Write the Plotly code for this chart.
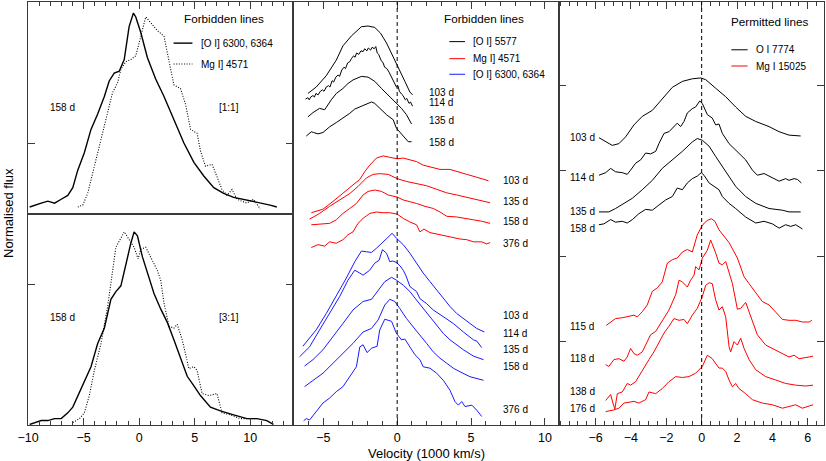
import plotly.graph_objects as go

# ---------------- DATA ----------------
# Left panel (158 d), velocity in 1000 km/s, normalised flux
L_top_oi_v = [-9.85,-9.40,-8.81,-8.21,-7.61,-7.01,-6.42,-5.97,-5.52,-4.93,-4.33,-3.73,-3.13,-2.69,-2.24,-1.79,-1.34,-0.90,-0.51,-0.30,0.15,0.75,1.49,2.24,3.13,4.03,4.93,5.82,6.72,7.61,8.51,9.40,10.30,11.19,11.79,12.39]
L_top_oi_f = [0.00,0.01,0.02,0.03,0.02,0.04,0.06,0.10,0.19,0.28,0.40,0.48,0.57,0.65,0.69,0.70,0.76,0.93,1.00,0.98,0.90,0.77,0.66,0.57,0.45,0.33,0.23,0.16,0.10,0.07,0.05,0.04,0.03,0.02,0.01,0.00]
L_top_mg_v = [-5.52,-5.07,-4.63,-4.03,-3.43,-2.84,-2.39,-1.94,-1.64,-1.19,-0.75,-0.30,0.15,0.60,1.04,1.64,2.24,2.84,3.13,3.73,4.18,4.63,5.22,5.52,5.97,6.57,7.01,7.46,7.91,8.36,8.81,9.70,10.30,10.90]
L_top_mg_f = [0.00,0.01,0.07,0.21,0.35,0.50,0.59,0.64,0.71,0.75,0.76,0.78,0.88,0.98,0.95,0.91,0.88,0.72,0.63,0.61,0.53,0.40,0.38,0.29,0.21,0.22,0.16,0.09,0.06,0.09,0.04,0.02,0.04,-0.01]
L_bot_oi_v = [-9.85,-9.40,-8.81,-8.21,-7.61,-7.01,-6.42,-5.97,-5.52,-4.93,-4.33,-3.73,-3.13,-2.54,-2.09,-1.64,-1.19,-0.75,-0.45,-0.15,0.30,0.75,1.34,1.94,2.54,3.13,3.73,4.33,4.93,5.52,6.42,7.31,8.51,9.70,10.60,11.49,12.09]
L_bot_oi_f = [0.00,0.01,0.02,0.02,0.03,0.03,0.06,0.09,0.15,0.22,0.30,0.42,0.50,0.65,0.69,0.72,0.84,0.94,1.00,0.98,0.87,0.79,0.68,0.60,0.53,0.44,0.35,0.25,0.20,0.15,0.09,0.07,0.05,0.03,0.03,0.02,0.00]
L_bot_mg_v = [-5.97,-5.37,-4.93,-4.48,-4.03,-3.43,-2.84,-2.39,-2.09,-1.34,-0.90,-0.45,-0.09,0.15,0.60,1.04,1.64,1.94,2.24,2.69,3.13,3.43,3.88,4.48,4.93,5.22,5.67,6.27,7.01,7.46,8.21,9.10,10.00,10.60]
L_bot_mg_f = [0.01,0.03,0.06,0.15,0.28,0.42,0.61,0.79,0.92,1.00,0.96,0.92,0.86,0.91,0.92,0.87,0.80,0.75,0.63,0.51,0.50,0.52,0.44,0.29,0.30,0.28,0.16,0.15,0.16,0.06,0.05,0.03,0.03,0.03]

# Middle panel: [O I] 5577 (black), stacked flux
M_oi5577_103_v = [-6.04,-5.48,-4.80,-4.12,-3.67,-3.10,-2.42,-1.97,-1.52,-1.13,-0.72,-0.27,0.07,0.52,0.86,1.04]
M_oi5577_103_f = [4.67,4.76,4.92,5.14,5.34,5.48,5.61,5.62,5.60,5.52,5.38,5.19,5.05,4.84,4.69,4.65]
M_oi5577_114_v = [-6.20,-6.05,-5.95,-5.85,-5.70,-5.60,-5.50,-5.35,-5.20,-5.05,-4.95,-4.80,-4.65,-4.55,-4.40,-4.30,-4.15,-4.00,-3.90,-3.75,-3.60,-3.50,-3.35,-3.20,-3.10,-2.95,-2.85,-2.75,-2.60,-2.45,-2.30,-2.20,-2.05,-1.95,-1.80,-1.70,-1.55,-1.45,-1.35,-1.25,-1.10,-0.95,-0.85,-0.70,-0.55,-0.45,-0.30,-0.20,-0.05,0.05,0.15,0.30,0.40,0.55,0.65,0.80,0.90,1.04]
M_oi5577_114_f = [4.59,4.61,4.58,4.62,4.64,4.62,4.67,4.65,4.70,4.72,4.70,4.76,4.78,4.76,4.85,4.83,4.90,4.93,4.91,5.00,5.04,5.02,5.10,5.12,5.16,5.20,5.18,5.24,5.22,5.27,5.26,5.30,5.27,5.31,5.28,5.32,5.30,5.33,5.24,5.22,5.14,5.10,5.04,5.02,4.97,4.93,4.88,4.84,4.76,4.78,4.70,4.66,4.64,4.58,4.60,4.53,4.55,4.49]
M_oi5577_135_v = [-6.04,-5.70,-5.25,-4.91,-4.46,-4.12,-3.67,-3.33,-2.99,-2.42,-1.97,-1.52,-1.06,-0.61,-0.16,0.29,0.63,0.97]
M_oi5577_135_f = [4.34,4.40,4.46,4.44,4.58,4.67,4.74,4.81,4.86,4.91,4.90,4.84,4.74,4.65,4.55,4.46,4.37,4.24]
M_oi5577_158_v = [-6.15,-5.81,-5.66,-5.36,-5.02,-4.57,-4.12,-3.67,-3.21,-2.87,-2.42,-2.08,-1.74,-1.52,-1.18,-0.72,-0.27,-0.05,0.41,0.75,0.97]
M_oi5577_158_f = [4.07,4.13,4.12,4.10,4.12,4.20,4.26,4.32,4.39,4.45,4.49,4.52,4.55,4.53,4.46,4.37,4.30,4.18,4.07,3.99,3.99]

# Middle panel: Mg I] 4571 (red)
M_mg_103_v = [-5.81,-5.02,-4.34,-3.67,-2.99,-2.53,-2.19,-1.86,-1.40,-0.95,-0.50,0.00,0.41,0.86,1.31,1.76,2.33,2.90,3.57,4.14,4.71,5.38,6.18]
M_mg_103_f = [2.99,3.04,3.15,3.26,3.38,3.46,3.57,3.66,3.76,3.79,3.77,3.75,3.76,3.73,3.71,3.66,3.63,3.60,3.60,3.57,3.53,3.49,3.44]
M_mg_135_v = [-5.93,-5.25,-4.57,-3.89,-3.21,-2.65,-2.08,-1.63,-1.18,-0.61,0.00,0.63,1.31,1.99,2.67,3.35,4.03,4.71,5.38,6.29]
M_mg_135_f = [2.90,2.98,3.08,3.17,3.26,3.36,3.48,3.53,3.54,3.53,3.47,3.43,3.40,3.37,3.32,3.27,3.24,3.21,3.18,3.13]
M_mg_158_v = [-5.81,-5.25,-4.57,-4.12,-3.67,-3.21,-2.76,-2.31,-1.97,-1.52,-1.06,-0.61,0.00,0.41,0.86,1.31,1.88,2.44,2.90,3.35,4.03,4.71,5.16,5.72,6.29]
M_mg_158_f = [2.82,2.83,2.84,2.89,2.98,3.05,3.12,3.24,3.29,3.31,3.29,3.24,3.21,3.17,3.15,3.12,3.08,3.05,3.00,2.94,2.93,2.90,2.89,2.87,2.84]
M_mg_376_v = [-5.81,-5.36,-4.91,-4.57,-4.12,-3.67,-3.33,-2.99,-2.65,-2.31,-1.86,-1.40,-0.95,-0.50,0.00,0.41,0.86,1.31,1.54,1.81,2.22,2.67,3.35,3.80,4.25,4.71,5.16,5.72,6.06,6.29]
M_mg_376_f = [2.50,2.54,2.52,2.58,2.56,2.61,2.68,2.72,2.84,2.91,2.98,3.00,2.99,2.99,2.97,2.91,2.86,2.82,2.72,2.76,2.71,2.69,2.65,2.64,2.62,2.61,2.58,2.58,2.55,2.57]

# Middle panel: [O I] 6300, 6364 (blue)
M_oi6300_103_v = [-6.38,-5.93,-5.48,-4.80,-4.12,-3.44,-2.87,-2.42,-2.08,-1.74,-1.40,-0.95,-0.50,-0.34,-0.05,0.41,0.86,1.31,1.76,2.22,2.67,3.12,3.57,4.03,4.71,5.38,5.90]
M_oi6300_103_f = [1.11,1.22,1.34,1.57,1.81,2.07,2.30,2.45,2.44,2.43,2.49,2.58,2.68,2.70,2.63,2.54,2.42,2.28,2.14,2.02,1.90,1.78,1.67,1.57,1.46,1.36,1.31]
M_oi6300_114_v = [-6.61,-5.93,-5.25,-4.57,-3.89,-3.33,-2.87,-2.53,-2.31,-1.86,-1.52,-1.22,-1.00,-0.72,-0.50,-0.30,-0.05,0.20,0.41,0.60,0.86,1.05,1.31,1.54,1.99,2.44,3.12,3.80,4.48,5.16,5.40,5.61,5.72]
M_oi6300_114_f = [0.96,1.10,1.34,1.57,1.81,2.04,2.18,2.14,2.11,2.18,2.28,2.32,2.47,2.42,2.30,2.31,2.29,2.24,2.18,2.10,1.95,1.92,1.88,1.78,1.71,1.62,1.53,1.43,1.31,1.20,1.18,1.13,1.09]
M_oi6300_135_v = [-6.27,-5.70,-5.02,-4.34,-3.67,-2.99,-2.31,-1.74,-1.29,-0.84,-0.38,-0.05,0.41,0.86,1.31,1.76,2.22,2.67,3.12,3.57,4.03,4.48,5.16,5.84]
M_oi6300_135_f = [0.83,0.92,1.06,1.24,1.43,1.62,1.74,1.77,1.90,2.02,2.08,2.04,1.97,1.88,1.76,1.64,1.53,1.41,1.29,1.20,1.13,1.06,0.97,0.92]
M_oi6300_158_v = [-6.27,-5.70,-5.02,-4.34,-3.67,-2.99,-2.31,-1.74,-1.29,-0.84,-0.50,-0.16,0.18,0.63,1.09,1.54,1.99,2.44,2.90,3.35,3.80,4.25,4.93,5.84]
M_oi6300_158_f = [0.54,0.63,0.73,0.87,1.01,1.15,1.31,1.36,1.48,1.69,1.77,1.74,1.64,1.50,1.38,1.27,1.15,1.03,0.94,0.87,0.80,0.75,0.68,0.63]
M_oi6300_376_v = [-6.33,-6.15,-5.93,-5.48,-5.02,-4.57,-4.12,-3.67,-3.21,-2.76,-2.53,-2.31,-2.04,-1.74,-1.36,-1.18,-0.84,-0.61,-0.38,-0.05,0.29,0.52,0.86,1.20,1.54,1.76,2.22,2.67,3.12,3.57,3.91,4.14,4.37,4.59,5.05,5.38,5.72]
M_oi6300_376_f = [0.06,0.09,0.07,0.19,0.31,0.38,0.47,0.54,0.68,0.82,1.10,1.13,1.02,1.08,1.11,1.34,1.49,1.48,1.46,1.29,1.20,1.21,1.10,0.99,0.92,0.82,0.80,0.73,0.63,0.49,0.33,0.28,0.33,0.26,0.28,0.21,0.12]

# Right panel: O I 7774 (black)
R_oi_103_v = [-5.81,-5.53,-5.06,-4.68,-4.30,-3.83,-3.36,-2.79,-2.23,-1.66,-1.09,-0.53,-0.06,0.23,0.79,1.36,1.92,2.49,3.06,3.81,4.38,4.94,5.60]
R_oi_103_f = [3.39,3.36,3.30,3.32,3.40,3.54,3.64,3.71,3.85,3.98,4.05,4.08,4.09,4.07,3.97,3.87,3.75,3.64,3.58,3.52,3.46,3.42,3.41]
R_oi_114_v = [-5.81,-5.43,-5.15,-4.87,-4.49,-4.21,-4.02,-3.74,-3.45,-3.17,-2.89,-2.60,-2.42,-2.13,-1.85,-1.57,-1.38,-1.19,-1.00,-0.81,-0.53,-0.34,-0.11,0.04,0.32,0.60,0.79,0.98,1.17,1.55,2.02,2.49,2.87,3.15,3.53,3.91,4.38,4.75,4.94,5.23,5.42,5.64]
R_oi_114_f = [2.95,2.98,3.03,2.99,2.98,2.96,3.01,3.09,3.13,3.21,3.20,3.23,3.32,3.44,3.46,3.52,3.56,3.52,3.58,3.68,3.73,3.75,3.82,3.79,3.66,3.62,3.54,3.55,3.44,3.32,3.23,3.13,3.01,2.95,2.97,2.93,2.88,2.91,2.89,2.91,2.90,2.86]
R_oi_135_v = [-5.81,-5.25,-4.87,-4.49,-3.92,-3.36,-2.79,-2.23,-1.66,-1.09,-0.53,-0.25,0.04,0.42,0.79,1.17,1.55,1.92,2.49,3.06,3.81,4.57,4.94,5.60]
R_oi_135_f = [2.52,2.52,2.56,2.61,2.68,2.78,2.89,3.03,3.13,3.23,3.34,3.38,3.36,3.29,3.17,3.05,2.93,2.82,2.70,2.62,2.56,2.54,2.52,2.52]
R_oi_158_v = [-5.81,-5.53,-5.15,-4.87,-4.49,-4.21,-3.92,-3.55,-3.17,-2.79,-2.42,-2.04,-1.66,-1.38,-1.09,-0.81,-0.53,-0.25,-0.02,0.13,0.42,0.70,0.98,1.17,1.55,1.92,2.49,3.06,3.53,4.00,4.38,4.75,5.04,5.32,5.70]
R_oi_158_f = [2.37,2.38,2.43,2.40,2.41,2.39,2.43,2.50,2.55,2.54,2.60,2.66,2.70,2.80,2.78,2.86,2.91,2.94,2.98,2.95,2.86,2.82,2.78,2.70,2.62,2.56,2.46,2.39,2.41,2.38,2.33,2.37,2.35,2.37,2.32]

# Right panel: Mg I 15025 (red)
R_mg_115_v = [-5.40,-5.15,-4.87,-4.49,-4.11,-3.83,-3.64,-3.36,-3.08,-2.79,-2.51,-2.23,-1.94,-1.66,-1.38,-1.09,-0.81,-0.53,-0.25,0.00,0.15,0.32,0.55,0.75,0.98,1.26,1.55,2.02,2.40,2.68,3.06,3.43,3.81,4.19,4.57,4.94,5.32,5.70,6.08,6.23]
R_mg_115_f = [1.19,1.23,1.27,1.28,1.30,1.31,1.29,1.35,1.43,1.59,1.63,1.70,1.92,1.96,1.98,2.05,2.08,2.05,2.25,2.35,2.39,2.42,2.44,2.41,2.31,2.24,2.16,1.98,1.76,1.68,1.57,1.47,1.43,1.35,1.26,1.25,1.25,1.23,1.23,1.25]
R_mg_118_v = [-5.43,-5.25,-4.96,-4.68,-4.40,-4.21,-4.02,-3.83,-3.64,-3.36,-3.17,-2.89,-2.60,-2.23,-1.85,-1.47,-1.28,-1.09,-0.81,-0.62,-0.43,-0.34,-0.15,0.04,0.32,0.51,0.64,0.79,0.98,1.17,1.36,1.55,1.74,2.02,2.21,2.49,2.77,3.15,3.62,4.19,4.57,4.94,5.23,5.51,6.08,6.30]
R_mg_118_f = [0.73,0.71,0.79,0.80,0.77,0.82,0.92,0.86,0.84,0.88,0.96,1.08,1.12,1.25,1.37,1.55,1.72,1.70,1.64,1.72,1.78,1.88,1.84,1.98,2.07,2.19,2.13,2.04,1.92,1.90,1.94,1.80,1.68,1.38,1.39,1.46,1.29,1.08,0.96,0.90,0.86,0.82,0.84,0.80,0.82,0.83]
R_mg_138_v = [-5.43,-5.15,-5.02,-4.91,-4.77,-4.49,-4.21,-4.02,-3.74,-3.45,-3.26,-2.98,-2.70,-2.42,-2.13,-1.85,-1.57,-1.28,-1.00,-0.81,-0.53,-0.25,0.04,0.23,0.42,0.60,0.79,0.98,1.17,1.36,1.55,1.64,1.83,2.02,2.21,2.40,2.68,3.06,3.62,4.19,4.75,5.32,5.89,6.30]
R_mg_138_f = [0.31,0.38,0.28,0.21,0.39,0.41,0.51,0.49,0.53,0.63,0.71,0.79,0.88,0.98,1.10,1.18,1.27,1.25,1.26,1.21,1.31,1.39,1.53,1.66,1.69,1.68,1.49,1.37,1.41,1.29,0.94,0.88,1.00,0.96,1.04,0.92,0.79,0.67,0.59,0.55,0.51,0.49,0.48,0.49]
R_mg_176_v = [-5.43,-5.15,-4.96,-4.68,-4.40,-4.11,-3.83,-3.55,-3.32,-3.17,-2.98,-2.60,-2.23,-1.85,-1.47,-1.09,-0.72,-0.34,0.04,0.32,0.60,0.98,1.17,1.36,1.55,1.74,1.92,2.11,2.49,2.87,3.43,4.00,4.57,4.94,5.32,5.70,6.08,6.30]
R_mg_176_f = [0.18,0.19,0.20,0.22,0.28,0.29,0.30,0.28,0.30,0.32,0.41,0.39,0.45,0.53,0.59,0.58,0.59,0.63,0.71,0.84,0.80,0.69,0.69,0.65,0.55,0.47,0.51,0.45,0.39,0.32,0.28,0.26,0.22,0.24,0.26,0.22,0.25,0.26]

epochs_mid_black = ["103 d", "114 d", "135 d", "158 d"]
epochs_mid_red = ["103 d", "135 d", "158 d", "376 d"]
epochs_mid_blue = ["103 d", "114 d", "135 d", "158 d", "376 d"]
epochs_right_black = ["103 d", "114 d", "135 d", "158 d"]
epochs_right_red = ["115 d", "118 d", "138 d", "176 d"]

ticks_left = [-10, -5, 0, 5, 10]
ticks_mid = [-5, 0, 5, 10]
ticks_right = [-6, -4, -2, 0, 2, 4, 6]

# ---------------- FIGURE ----------------
W, H = 826, 461
def fx(p): return p / W
def fy(p): return 1 - p / H

FONT = "Liberation Sans, Arial, Helvetica, sans-serif"
LC = "#3a3a3a"
BLACK, RED, BLUE = "#000000", "#ff0000", "#1a1aff"
DOTTED = "1px,1.6px"

fig = go.Figure()

def add(xa, ya, v, f, color, width=1.0, dash=None):
    fig.add_trace(go.Scatter(x=v, y=f, xaxis=xa, yaxis=ya, mode="lines",
                             line=dict(color=color, width=width, dash=dash),
                             hoverinfo="skip", showlegend=False))

# Left panels
add("x", "y", L_top_oi_v, L_top_oi_f, BLACK, 1.4)
add("x", "y", L_top_mg_v, L_top_mg_f, BLACK, 1.1, DOTTED)
add("x2", "y2", L_bot_oi_v, L_bot_oi_f, BLACK, 1.4)
add("x2", "y2", L_bot_mg_v, L_bot_mg_f, BLACK, 1.1, DOTTED)

# Middle panel
mid_black = [(M_oi5577_103_v, M_oi5577_103_f), (M_oi5577_114_v, M_oi5577_114_f),
             (M_oi5577_135_v, M_oi5577_135_f), (M_oi5577_158_v, M_oi5577_158_f)]
mid_red = [(M_mg_103_v, M_mg_103_f), (M_mg_135_v, M_mg_135_f),
           (M_mg_158_v, M_mg_158_f), (M_mg_376_v, M_mg_376_f)]
mid_blue = [(M_oi6300_103_v, M_oi6300_103_f), (M_oi6300_114_v, M_oi6300_114_f),
            (M_oi6300_135_v, M_oi6300_135_f), (M_oi6300_158_v, M_oi6300_158_f),
            (M_oi6300_376_v, M_oi6300_376_f)]
for v, f in mid_black:
    add("x3", "y3", v, f, BLACK)
for v, f in mid_red:
    add("x3", "y3", v, f, RED)
for v, f in mid_blue:
    add("x3", "y3", v, f, BLUE)

# Right panel
right_black = [(R_oi_103_v, R_oi_103_f), (R_oi_114_v, R_oi_114_f),
               (R_oi_135_v, R_oi_135_f), (R_oi_158_v, R_oi_158_f)]
right_red = [(R_mg_115_v, R_mg_115_f), (R_mg_118_v, R_mg_118_f),
             (R_mg_138_v, R_mg_138_f), (R_mg_176_v, R_mg_176_f)]
for v, f in right_black:
    add("x4", "y4", v, f, BLACK)
for v, f in right_red:
    add("x4", "y4", v, f, RED)

# ---------------- AXES ----------------
tickfont = dict(family=FONT, size=12.5, color="black")
base = dict(showline=True, linecolor=LC, linewidth=1.3, showgrid=False, zeroline=False,
            ticks="inside", tickcolor=LC, tickwidth=1, ticklen=7, tickfont=tickfont,
            fixedrange=True, automargin=False)

def xminor(d):
    return dict(tick0=0, dtick=d, ticks="inside", ticklen=4, tickcolor=LC, tickwidth=1,
                showgrid=False)

xl_dom = [fx(28), fx(293)]
xm_dom = [fx(293), fx(559)]
xr_dom = [fx(559), fx(824)]
yfull = [fy(425), fy(2)]
ytop = [fy(214), fy(2)]
ybot = [fy(425), fy(214)]

fig.update_layout(
    width=W, height=H, margin=dict(l=0, r=0, t=0, b=0, pad=0, autoexpand=False),
    paper_bgcolor="white", plot_bgcolor="white", showlegend=False,
    font=dict(family=FONT, color="black"),
    xaxis=dict(base, domain=xl_dom, anchor="y", range=[-10, 13.85], tickmode="array",
               tickvals=ticks_left, side="top", showticklabels=False, mirror=True,
               minor=xminor(1)),
    yaxis=dict(base, domain=ytop, anchor="x", range=[-0.036, 1.057], tickmode="array",
               tickvals=[0.33], showticklabels=False, mirror="ticks"),
    xaxis2=dict(base, domain=xl_dom, anchor="y2", range=[-10, 13.85], tickmode="array",
                tickvals=ticks_left, mirror=True, minor=xminor(1), ticklabelstandoff=1),
    yaxis2=dict(base, domain=ybot, anchor="x2", range=[-0.003, 1.093], tickmode="array",
                tickvals=[0.725], showticklabels=False, mirror="ticks"),
    xaxis3=dict(base, domain=xm_dom, anchor="y3", range=[-7.05, 10.95], tickmode="array",
                tickvals=ticks_mid, mirror="ticks", minor=xminor(1), ticklabelstandoff=1),
    yaxis3=dict(base, domain=yfull, anchor="x3", range=[0, 5.958], ticks="",
                showticklabels=False, mirror=True),
    xaxis4=dict(base, domain=xr_dom, anchor="y4", range=[-8.07, 6.92], tickmode="array",
                tickvals=ticks_right, mirror="ticks", minor=xminor(0.5), ticklabelstandoff=1),
    yaxis4=dict(base, domain=yfull, anchor="x4", range=[0.023, 4.98], tickmode="array",
                tickvals=[1, 2, 3, 4], showticklabels=False, mirror="ticks"),
)

# dashed zero-velocity lines
for xr, yr in (("x3", "y3 domain"), ("x4", "y4 domain")):
    fig.add_shape(type="line", xref=xr, yref=yr, x0=0, x1=0, y0=0, y1=1,
                  line=dict(color="black", width=1, dash="4px,3px"))

# ---------------- TEXT ----------------
def note(text, x, y, xref, yref, size=10, xanchor="left", **kw):
    fig.add_annotation(text=text, x=x, y=y, xref=xref, yref=yref, showarrow=False,
                       xanchor=xanchor, yanchor="middle",
                       font=dict(family=FONT, size=size, color="black"), **kw)

def legline(xref, yref, x0, x1, y, color, dash=None, width=1.0):
    fig.add_shape(type="line", xref=xref, yref=yref, x0=x0, x1=x1, y0=y, y1=y,
                  line=dict(color=color, width=width, dash=dash))

HEAD = 11.7
# left panels
note("Forbidden lines", 7.67, 0.97, "x", "y", HEAD, "center")
legline("x", "y", 3.1, 4.8, 0.845, BLACK, None, 1.4)
note("[O I] 6300, 6364", 5.37, 0.845, "x", "y", 10)
legline("x", "y", 3.1, 4.8, 0.737, BLACK, DOTTED, 1.1)
note("Mg I] 4571", 5.37, 0.737, "x", "y", 10)
note("158 d", -6.92, 0.515, "x", "y", 10, "center")
note("[1:1]", 8.12, 0.515, "x", "y", 10, "center")
note("158 d", -6.92, 0.553, "x2", "y2", 10, "center")
note("[3:1]", 8.12, 0.553, "x2", "y2", 10, "center")

# middle panel legend
note("Forbidden lines", 5.88, 5.73, "x3", "y3", HEAD, "center")
for label, col, yy in (("[O I] 5577", BLACK, 5.40), ("Mg I] 4571", RED, 5.16),
                       ("[O I] 6300, 6364", BLUE, 4.94)):
    legline("x3", "y3", 3.53, 4.59, yy, col)
    note(label, 5.0, yy, "x3", "y3", 10)

for lab, yy in zip(epochs_mid_black, [4.69, 4.54, 4.29, 3.98]):
    note(lab, 2.04, yy, "x3", "y3", 10)
for lab, yy in zip(epochs_mid_red, [3.45, 3.15, 2.86, 2.56]):
    note(lab, 7.05, yy, "x3", "y3", 10)
for lab, yy in zip(epochs_mid_blue, [1.54, 1.29, 1.07, 0.82, 0.22]):
    note(lab, 7.05, yy, "x3", "y3", 10)

# right panel legend
note("Permitted lines", 3.85, 4.75, "x4", "y4", HEAD, "center")
legline("x4", "y4", 1.68, 2.60, 4.42, BLACK)
note("O I 7774", 2.98, 4.42, "x4", "y4", 10)
legline("x4", "y4", 1.68, 2.60, 4.23, RED)
note("Mg I 15025", 2.98, 4.23, "x4", "y4", 10)

for lab, yy in zip(epochs_right_black, [3.39, 2.92, 2.52, 2.33]):
    note(lab, -7.57, yy, "x4", "y4", 10)
for lab, yy in zip(epochs_right_red, [1.18, 0.80, 0.41, 0.22]):
    note(lab, -7.57, yy, "x4", "y4", 10)

# axis titles
note("Velocity (1000 km/s)", fx(426), fy(453), "paper", "paper", 13, "center")
note("Normalised flux", fx(8), fy(213), "paper", "paper", 13, "center", textangle=-90)

fig.write_html("out.html", config={"displayModeBar": False, "staticPlot": True},
               post_script="document.body.style.margin='0px';document.body.style.padding='0px';")
